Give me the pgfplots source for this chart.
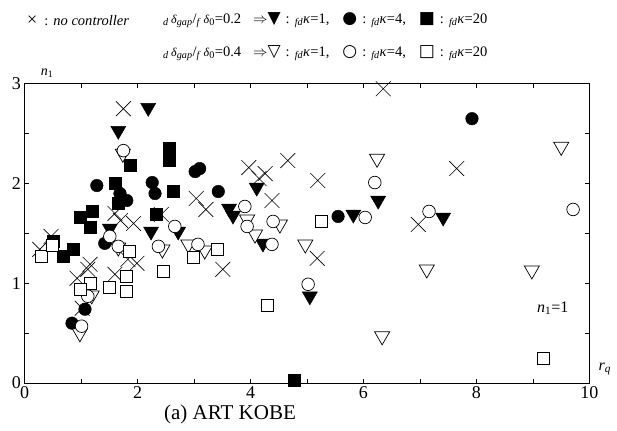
\documentclass[border=0pt]{standalone}
\usepackage{pgfplots}
\pgfplotsset{compat=1.18}
\usepackage{fontspec}
\setmainfont{Liberation Serif}
\newfontfamily\sym{DejaVu Sans}
\newcommand{\fdk}{\textsubscript{\textit{fd}}\textit{κ}}
\newcommand{\dgap}{\textsubscript{\textit{d}}\,{\large\textit{δ}}\textsubscript{\textit{gap}}/\textsubscript{\textit{f}}\,{\large\textit{δ}}\textsubscript{0}}
\newcommand{\sy}[1]{{\sym\fontsize{17}{18}\selectfont #1}}
\newcommand{\cl}{\hspace{5pt}:\hspace{5pt}}
\begin{document}
\begin{tikzpicture}
\begin{axis}[
  scale only axis, width=564.5pt, height=299pt,
  xmin=0, xmax=10, ymin=0, ymax=3,
  xtick={0,2,...,10}, minor xtick={1,3,5,7,9},
  ytick={0,1,2,3}, minor ytick={0.5,1.5,2.5},
  tick align=inside, major tick length=4pt, minor tick length=4pt,
  tick style={black, line width=0.6pt},
  axis line style={line width=0.8pt},
  ticklabel style={font=\fontsize{18}{20}\selectfont},
  /pgf/number format/assume math mode=true,
  clip=false,
  only marks,
]
\addplot[gray!90, line width=1.5pt, no marks] coordinates {(0,1) (10,1)};
% no controller
\addplot[mark=x, mark size=10.5pt, black, mark options={line width=0.6pt}] coordinates {
(1.75,2.75) (0.27,1.34) (0.47,1.47) (0.93,1.05) (1.12,1.14) (1.16,1.19) (1.02,0.75)
(1.60,1.09) (1.83,1.24) (1.99,1.20) (1.60,1.70) (1.70,1.63) (1.93,1.60) (2.42,1.69)
(3.04,1.85) (3.21,1.74) (3.97,2.16) (4.26,2.10) (4.15,2.05) (4.66,2.23) (5.19,2.03)
(4.38,1.83) (5.18,1.25) (3.51,1.14) (6.35,2.95) (7.65,2.15) (6.97,1.59)
};
% delta 0.2, fd kappa = 1
\addplot[mark=triangle*, mark size=8.7pt, mark options={rotate=180, fill=black, draw=black}] coordinates {
(2.19,2.76) (1.66,2.53) (2.24,1.52) (2.72,1.52) (1.51,1.55) (3.62,1.75) (3.69,1.68)
(4.11,1.96) (4.22,1.40) (5.82,1.69) (6.26,1.83) (7.41,1.66) (5.05,0.87)
};
% delta 0.2, fd kappa = 4
\addplot[mark=*, mark size=6.3pt, mark options={fill=black, draw=black}] coordinates {
(7.92,2.65) (1.28,1.98) (1.69,1.90) (1.81,1.83) (2.26,2.01) (2.31,1.90) (3.02,2.12)
(3.10,2.15) (3.43,1.92) (1.42,1.40) (5.55,1.67) (1.07,0.74) (0.84,0.60)
};
% delta 0.2, fd kappa = 20
\addplot[mark=square*, mark size=6pt, mark options={fill=black, draw=black}] coordinates {
(1.87,2.18) (2.56,2.35) (2.56,2.23) (2.63,1.92) (1.60,2.00) (1.66,1.80) (1.19,1.72)
(0.98,1.66) (1.16,1.56) (0.50,1.42) (0.68,1.27) (0.86,1.34) (2.33,1.69) (4.77,0.03)
};
% delta 0.4, fd kappa = 1
\addplot[mark=triangle*, mark size=8.7pt, mark options={rotate=180, fill=white, draw=black, line width=0.7pt}] coordinates {
(9.50,2.37) (6.24,2.25) (7.12,1.14) (8.98,1.13) (6.33,0.47) (4.97,1.39) (4.52,1.59)
(4.08,1.49) (3.94,1.64) (2.44,1.34) (2.90,1.39) (3.19,1.33) (1.66,1.36) (0.98,0.50)
(1.19,0.88) (1.74,2.30)
};
% delta 0.4, fd kappa = 4
\addplot[mark=*, mark size=6.3pt, mark options={fill=white, draw=black, line width=0.7pt}] coordinates {
(7.16,1.72) (9.71,1.74) (6.20,2.01) (6.03,1.66) (4.40,1.62) (4.38,1.39) (3.90,1.77)
(3.94,1.57) (5.02,0.99) (2.66,1.57) (2.37,1.37) (3.07,1.39) (1.75,2.33) (1.51,1.47)
(1.66,1.37) (1.12,0.87) (1.01,0.57)
};
% delta 0.4, fd kappa = 20
\addplot[mark=square*, mark size=6pt, mark options={fill=white, draw=black, line width=0.7pt}] coordinates {
(9.18,0.25) (4.30,0.78) (5.25,1.62) (3.41,1.34) (2.98,1.26) (2.45,1.12) (1.85,1.32)
(1.81,1.07) (1.81,0.92) (1.51,0.96) (1.16,1.00) (0.98,0.94) (0.30,1.27) (0.49,1.38)
};
\path (axis cs:-0.434,-0.48) rectangle (axis cs:10.487,3.84);
\node[anchor=west, font=\fontsize{14.5}{16}\selectfont, inner sep=0pt] at (axis cs:0.044,3.635) {{\fontsize{18}{18}\selectfont ×}\hspace{2pt}\cl\textit{no controller}};
\node[anchor=west, font=\fontsize{14.5}{16}\selectfont, inner sep=0pt] at (axis cs:2.45,3.635)
  {\dgap=0.2\hspace{12pt}$\Rightarrow$\sy{▼}\cl\fdk=1,\hspace{13pt}\sy{●}\cl\fdk=4,\hspace{13pt}\sy{■}\cl\fdk=20};
\node[anchor=west, font=\fontsize{14.5}{16}\selectfont, inner sep=0pt] at (axis cs:2.45,3.31)
  {\dgap=0.4\hspace{12pt}$\Rightarrow$\sy{▽}\cl\fdk=1,\hspace{13pt}\sy{○}\cl\fdk=4,\hspace{13pt}\sy{□}\cl\fdk=20};
\node[font=\fontsize{14}{16}\selectfont] at (axis cs:0.4,3.11) {\textit{n}\textsubscript{1}};
\node[font=\fontsize{16}{18}\selectfont] at (axis cs:10.27,0.14) {\textit{r\textsubscript{q}}};
\node[font=\fontsize{16}{18}\selectfont] at (axis cs:9.35,0.75) {\textit{n}\textsubscript{1}=1};
\node[font=\fontsize{21}{24}\selectfont] at (axis cs:3.637,-0.31) {(a) ART KOBE};
\end{axis}
\end{tikzpicture}
\end{document}
